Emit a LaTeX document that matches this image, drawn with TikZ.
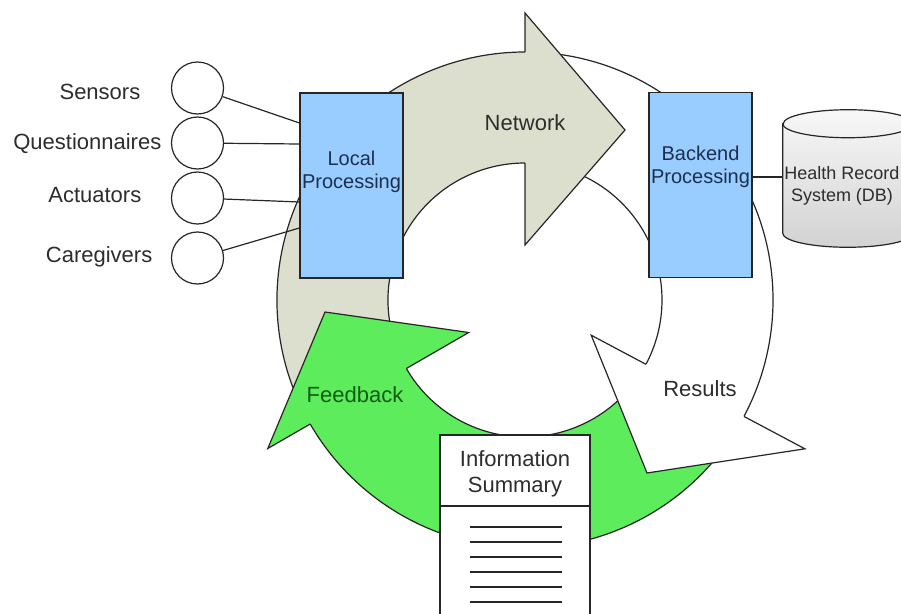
\documentclass[tikz,border=0pt]{standalone}
\usepackage{fontspec}
\setmainfont{Liberation Sans}
\usepackage{tikz}
\usetikzlibrary{calc}

\definecolor{netfill}{RGB}{221,223,206}
\definecolor{fbfill}{RGB}{92,236,92}
\definecolor{boxfill}{RGB}{153,204,255}
\definecolor{boxtext}{RGB}{28,48,80}
\definecolor{fbtext}{RGB}{20,92,20}
\definecolor{inktext}{RGB}{45,45,45}

\tikzset{
    outline/.style={draw=black!85, line width=0.9pt},
    procbox/.style={outline, fill=boxfill, minimum width=77.25pt, minimum height=138.75pt},
    boxlabel/.style={text=boxtext, align=center, font=\fontsize{15}{17.25}\selectfont},
    device/.style={outline, circle, fill=white, minimum size=39pt, inner sep=0pt},
    devlabel/.style={anchor=east, text=inktext, font=\fontsize{16.5}{19.5}\selectfont},
    looplabel/.style={text=inktext, align=center, font=\fontsize{16.5}{19.5}\selectfont},
}

\begin{document}
\begin{tikzpicture}[x=0.75pt,y=0.75pt,yscale=-1,xscale=1]
        \useasboundingbox (0,0) rectangle (901,614);
        \fill[white] (0,0) rectangle (901,614);
        \coordinate (cen) at (525,300);

        % ring parts (outer r 248, inner r 137)
        \fill[netfill] ($(cen)+(152:248)$) arc[start angle=152, end angle=271, radius=248] -- ($(cen)+(271:137)$) arc[start angle=271, end angle=152, radius=137] -- cycle;
        \draw[outline] ($(cen)+(152:248)$) arc[start angle=152, end angle=270, radius=248];
        \draw[outline] ($(cen)+(152:137)$) arc[start angle=152, end angle=270, radius=137];

        \fill[white] ($(cen)+(272:248)$) arc[start angle=272, end angle=389, radius=248] -- ($(cen)+(389:137)$) arc[start angle=389, end angle=272, radius=137] -- cycle;
        \draw[outline] ($(cen)+(272:248)$) arc[start angle=272, end angle=388, radius=248];
        \draw[outline] ($(cen)+(272:137)$) arc[start angle=272, end angle=388, radius=137];

        \fill[fbfill] ($(cen)+(35:248)$) arc[start angle=35, end angle=151, radius=248] -- ($(cen)+(151:137)$) arc[start angle=151, end angle=35, radius=137] -- cycle;
        \draw[outline] ($(cen)+(35:248)$) arc[start angle=35, end angle=150, radius=248];
        \draw[outline] ($(cen)+(35:137)$) arc[start angle=35, end angle=150, radius=137];

        % arrow heads
        \fill[netfill] ($(cen)+(270:55)$) -- ($(cen)+(270:287)$) -- (625,130) -- cycle;
        \draw[outline] ($(cen)+(270:248)$) -- ($(cen)+(270:287)$) -- (625,130) -- ($(cen)+(270:55)$) -- ($(cen)+(270:137)$);
        \fill[white] ($(cen)+(28:75)$) -- ($(cen)+(28:317)$) -- (647,473) -- cycle;
        \draw[outline] ($(cen)+(28:248)$) -- ($(cen)+(28:317)$) -- (647,473) -- ($(cen)+(28:75)$) -- ($(cen)+(28:137)$);
        \fill[fbfill] ($(cen)+(150:65)$) -- ($(cen)+(150:297)$) -- (325,312) -- cycle;
        \draw[outline] ($(cen)+(150:248)$) -- ($(cen)+(150:297)$) -- (325,312) -- ($(cen)+(150:65)$) -- ($(cen)+(150:137)$);

        \node[looplabel] (net) at (525,123) {Network};
        \node[looplabel] (res) at (700,389) {Results};
        \node[looplabel, text=fbtext] (fb) at (355,395) {Feedback};

        % processing blocks
        \node[procbox] (lp) at (351.5,185.5) {};
        \node[boxlabel] (lpt) at (351.5,172) {Local\\Processing};
        \node[procbox] (bp) at (700.5,185) {};
        \node[boxlabel] (bpt) at (700.5,167) {Backend\\Processing};

        % database drum
        \node[minimum width=97.5pt, minimum height=102.75pt, inner sep=0pt] (db) at (848,178.5) {};
        \shade[outline, top color=gray!6, bottom color=gray!35]
            ($(db.north west)+(0,14)$) -- ($(db.south west)+(0,-14)$)
            arc[start angle=180, end angle=0, x radius=65, y radius=14]
            -- ($(db.north east)+(0,14)$)
            arc[start angle=0, end angle=-180, x radius=65, y radius=14] -- cycle;
        \draw[outline] ($(db.north west)+(0,14)$) arc[start angle=180, end angle=0, x radius=65, y radius=14];
        \node[text=inktext, align=center, font=\fontsize{13.5}{17}\selectfont] (dbt) at (842,186) {Health Record\\System (DB)};
        \draw[outline] (bp.east |- 0,177) -- (db.west |- 0,177);

        % summary sheet
        \node[outline, fill=white, minimum width=112.5pt, minimum height=142.5pt] (info) at (515,530) {};
        \node[looplabel] (infot) at (515,474) {Information\\Summary};
        \draw[outline] (info.west |- 0,506) -- (info.east |- 0,506);
        \foreach \y in {527,542,557,572,587,602}
            \draw[outline] (470,\y) -- (562,\y);

        % inputs
        \node[device] (sen) at (197.5,88) {};
        \node[device] (que) at (197.5,143) {};
        \node[device] (act) at (197.5,198) {};
        \node[device] (care) at (197.5,258) {};
        \node[devlabel] (senl) at (145,92) {Sensors};
        \node[devlabel] (quel) at (166,144) {Questionnaires};
        \node[devlabel] (actl) at (146,195) {Actuators};
        \node[devlabel] (carel) at (157,257) {Caregivers};

        \draw[outline] (sen) -- (lp.west |- 0,123);
        \draw[outline] (que) -- (lp.west |- 0,144);
        \draw[outline] (act) -- (lp.west |- 0,202);
        \draw[outline] (care) -- (lp.west |- 0,228);
\end{tikzpicture}
\end{document}
